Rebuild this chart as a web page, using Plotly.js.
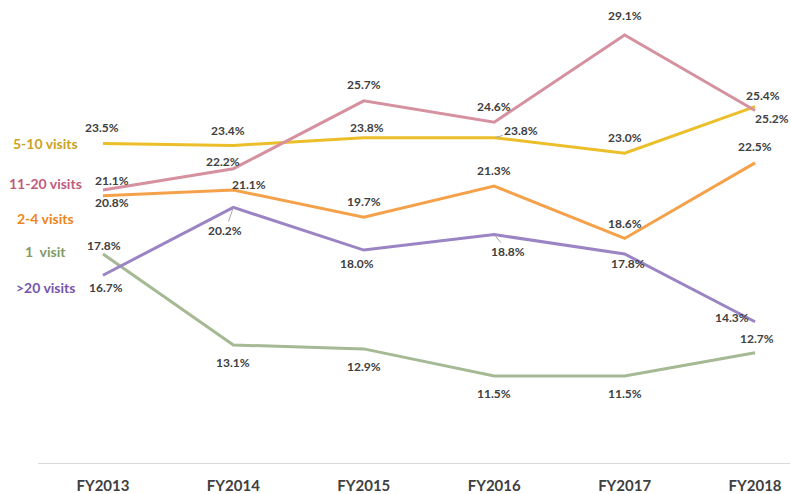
<!DOCTYPE html>
<html><head><meta charset="utf-8">
<script src="https://cdn.plot.ly/plotly-3.0.1.min.js"></script>
<style>html,body{margin:0;padding:0;background:#fff}</style>
</head><body><div id="chart" style="width:791px;height:494px"></div>
<script>
const categories = ["FY2013","FY2014","FY2015","FY2016","FY2017","FY2018"];
const seriesNames = ["5-10 visits","11-20 visits","2-4 visits","1  visit",">20 visits"];
const visits5to10 = [23.5, 23.4, 23.8, 23.8, 23.0, 25.4];
const visits11to20 = [21.1, 22.2, 25.7, 24.6, 29.1, 25.2];
const visits2to4 = [20.8, 21.1, 19.7, 21.3, 18.6, 22.5];
const visits1 = [17.8, 13.1, 12.9, 11.5, 11.5, 12.7];
const visitsOver20 = [16.7, 20.2, 18.0, 18.8, 17.8, 14.3];

const seriesValues = [visits5to10, visits11to20, visits2to4, visits1, visitsOver20];
const lineColors = ["#EBBE2A", "#D5919F", "#F4A14A", "#A5B994", "#9A84C4"];
const nameColors = ["#C9A322", "#C25A7E", "#EE8420", "#7F9C66", "#7656AC"];
// label offsets in pixels [dx, dy] (dy positive = up)
const labelOffsets = [
  [[-1,16],[-5,15],[3,10],null,[0,16],[8,11]],
  [[9,10],[-10,7],[0,16],[0,16],[0,19],[17,-8]],
  [[9,-7],[16,6],[0,16],[0,16],[0,15],[0,16]],
  [[1,8],[0,-17],[0,-18],[0,-17],[0,-17],[2,14]],
  [[3,-12],null,[-7,-13],null,[3,-10],[-23,4]]
];
// labels joined to their point by a short leader line: [ax, ay] in pixels
const leaderLabels = {"0-3":[27,-7], "4-1":[-8,23], "4-3":[14,17]};
const nameShift = [0, 7, -23, 2, -12];

const xIdx = categories.map((c,i)=>i);
const traces = seriesValues.map((vals,k)=>({
  type:"scatter", mode:"lines", x:xIdx, y:vals, name:seriesNames[k],
  line:{color:lineColors[k], width:3}, hoverinfo:"skip", showlegend:false
}));

const labelFont = {family:"Lato, 'Open Sans', sans-serif", size:12, color:"#404040", weight:"bold"};
const annotations = [];
seriesValues.forEach((vals,k)=>{
  vals.forEach((v,i)=>{
    const key = k+"-"+i;
    const txt = v.toFixed(1)+"%";
    if (leaderLabels[key]) {
      annotations.push({x:i, y:v, xref:"x", yref:"y", text:txt, font:labelFont,
        showarrow:true, arrowhead:0, arrowwidth:1, arrowcolor:"#A6A6A6",
        ax:leaderLabels[key][0], ay:leaderLabels[key][1], standoff:1});
    } else {
      const o = labelOffsets[k][i];
      annotations.push({x:i, y:v, xref:"x", yref:"y", text:txt, font:labelFont,
        showarrow:false, xshift:o[0], yshift:o[1]});
    }
  });
  annotations.push({x:0.01, xref:"paper", y:vals[0], yref:"y", yshift:nameShift[k],
    xanchor:"center", text:seriesNames[k], showarrow:false,
    font:{family:"Lato, 'Open Sans', sans-serif", size:14, color:nameColors[k], weight:"bold"}});
});

const layout = {
  width:791, height:494,
  margin:{l:38, r:1, t:10, b:31},
  paper_bgcolor:"#ffffff", plot_bgcolor:"#ffffff",
  xaxis:{range:[-0.498, 5.268], tickvals:xIdx, ticktext:categories,
    showgrid:false, zeroline:false, showline:true, linecolor:"#D9D9D9", linewidth:1,
    ticks:"", ticklabelstandoff:9,
    tickfont:{family:"Lato, 'Open Sans', sans-serif", size:15, color:"#404040", weight:"bold"}},
  yaxis:{range:[7.01, 30.39], visible:false, showgrid:false, zeroline:false},
  annotations:annotations,
  showlegend:false
};
Plotly.newPlot("chart", traces, layout, {staticPlot:true, displayModeBar:false});
</script></body></html>
